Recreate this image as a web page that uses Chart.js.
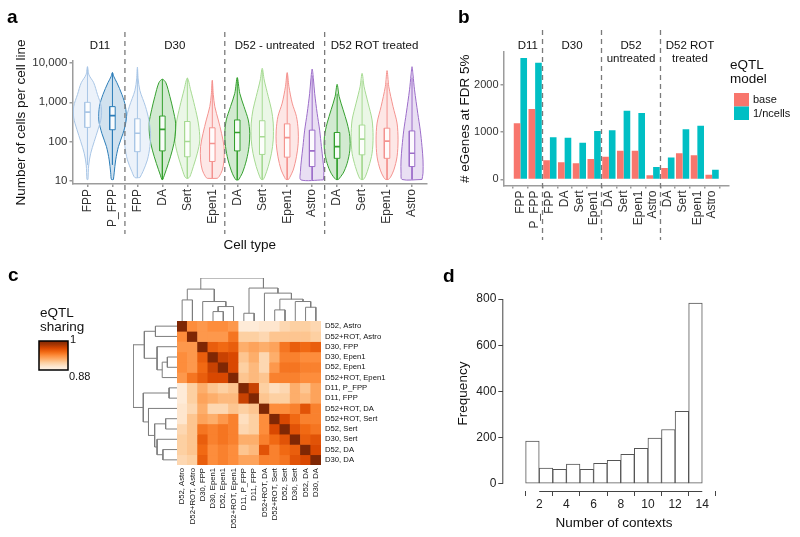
<!DOCTYPE html>
<html><head><meta charset="utf-8">
<script src="https://cdn.jsdelivr.net/npm/chart.js@4.4.1/dist/chart.umd.min.js"></script>
<style>
html,body{margin:0;padding:0;background:#fff;}
#wrap{position:relative;width:800px;height:537px;overflow:hidden;background:#fff;}
canvas{position:absolute;}
</style></head><body><div id="wrap">
<canvas id="ca" width="436" height="255" style="left:0;top:0"></canvas>
<canvas id="cb" width="360" height="255" style="left:440px;top:0"></canvas>
<canvas id="cc" width="400" height="277" style="left:0;top:260px"></canvas>
<canvas id="cct" width="144" height="46" style="left:177px;top:275px"></canvas>
<canvas id="ccl" width="47" height="144" style="left:130px;top:321px"></canvas>
<canvas id="cd" width="400" height="277" style="left:400px;top:260px"></canvas>
</div>
<script>
// ================= DATA =================
// Panel a / b categories
const cellTypes=['FPP','P_FPP','FPP','DA','Sert','Epen1','DA','Sert','Epen1','Astro','DA','Sert','Epen1','Astro'];
const facetNamesA=['D11','D30','D52 - untreated','D52 ROT treated'];
const facetNamesB=[['D11'],['D30'],['D52','untreated'],['D52 ROT','treated']];
const facetSizes=[2,4,4,4];
const yTicksA=[10,100,1000,10000];
const violinColors=['#A9C6E6','#2C7DB8','#A9C6E6','#34A02E','#A6DA92','#F4938F','#34A02E','#A6DA92','#F4938F','#9C6DC9','#34A02E','#A6DA92','#F4938F','#9C6DC9'];
// box statistics, in log10(number of cells)
const q1Log =[2.36,2.30,1.74,1.76,1.61,1.49,1.76,1.67,1.60,1.36,1.57,1.66,1.57,1.36];
const medLog=[2.75,2.66,2.21,2.31,2.00,1.95,2.23,2.12,2.10,1.76,1.87,2.06,2.01,1.70];
const q3Log =[3.00,2.89,2.58,2.65,2.51,2.35,2.55,2.53,2.45,2.29,2.23,2.42,2.34,2.27];
const whLoLog=[1.40,1.41,1.08,1.03,1.06,1.06,1.02,1.03,1.03,1.02,1.03,1.03,1.03,1.03];
const whHiLog=[3.91,3.76,3.84,3.59,3.62,3.56,3.63,3.82,3.73,3.68,3.22,3.56,3.50,3.63];
// violin outlines: [log10(cells), half width in category units]
const violinShapes=[
 [[1.03,0.02],[1.4,0.05],[1.7,0.13],[2.0,0.27],[2.3,0.42],[2.6,0.55],[2.9,0.55],[3.2,0.4],[3.5,0.25],[3.7,0.06],[3.91,0]],
 [[1.03,0.04],[1.2,0.07],[1.53,0.13],[1.87,0.24],[2.2,0.42],[2.55,0.55],[2.9,0.52],[3.2,0.38],[3.5,0.18],[3.65,0.06],[3.76,0]],
 [[1.08,0.1],[1.23,0.22],[1.53,0.4],[1.87,0.5],[2.2,0.53],[2.55,0.46],[2.9,0.32],[3.3,0.1],[3.6,0.03],[3.9,0]],
 [[1.03,0.02],[1.14,0.08],[1.44,0.24],[1.78,0.4],[2.12,0.51],[2.47,0.53],[2.81,0.43],[3.15,0.3],[3.5,0.14],[3.59,0]],
 [[1.06,0.03],[1.1,0.1],[1.36,0.24],[1.7,0.4],[2.04,0.5],[2.47,0.44],[2.89,0.3],[3.32,0.13],[3.62,0]],
 [[1.06,0.2],[1.1,0.27],[1.27,0.4],[1.53,0.47],[1.87,0.47],[2.21,0.37],[2.55,0.24],[2.89,0.1],[3.2,0.04],[3.56,0]],
 [[1.02,0.05],[1.19,0.2],[1.53,0.37],[1.87,0.47],[2.21,0.5],[2.55,0.44],[2.89,0.27],[3.23,0.1],[3.63,0]],
 [[1.03,0.04],[1.1,0.1],[1.36,0.24],[1.7,0.37],[2.04,0.44],[2.47,0.44],[2.81,0.37],[3.15,0.24],[3.57,0.08],[3.87,0]],
 [[1.03,0.05],[1.08,0.1],[1.27,0.24],[1.61,0.37],[1.95,0.44],[2.29,0.44],[2.64,0.37],[2.98,0.2],[3.4,0.07],[3.76,0]],
 [[1.02,0.45],[1.23,0.47],[1.53,0.43],[1.87,0.37],[2.29,0.3],[2.72,0.2],[3.23,0.1],[3.6,0.05],[3.85,0]],
 [[1.03,0.05],[1.19,0.24],[1.44,0.4],[1.78,0.51],[2.12,0.51],[2.47,0.4],[2.81,0.24],[3.15,0.08],[3.46,0]],
 [[1.03,0.05],[1.1,0.13],[1.36,0.27],[1.7,0.4],[2.12,0.44],[2.55,0.4],[2.98,0.24],[3.4,0.08],[3.74,0]],
 [[1.03,0.05],[1.08,0.13],[1.27,0.27],[1.61,0.4],[2.04,0.44],[2.47,0.4],[2.89,0.24],[3.4,0.07],[3.81,0]],
 [[1.03,0.4],[1.19,0.44],[1.53,0.44],[1.87,0.4],[2.29,0.33],[2.72,0.23],[3.32,0.1],[3.7,0.04],[3.91,0]]
];
// Panel b: number of eGenes
const baseVals  =[1190,1490,407,364,343,435,478,607,607,86,243,557,514,100];
const ncellsVals=[2570,2470,893,885,778,1028,1042,1456,1406,264,464,1064,1135,207];
const yTicksB=[0,1000,2000];
// Panel c: eQTL sharing
const heatLabels=['D52, Astro','D52+ROT, Astro','D30, FPP','D30, Epen1','D52, Epen1','D52+ROT, Epen1','D11, P_FPP','D11, FPP','D52+ROT, DA','D52+ROT, Sert','D52, Sert','D30, Sert','D52, DA','D30, DA'];
const heatValues=[
 [1,.94,.935,.94,.94,.935,.89,.89,.895,.895,.905,.91,.91,.905],
 [.94,1,.935,.935,.935,.95,.91,.91,.905,.915,.915,.915,.915,.91],
 [.935,.935,1,.96,.955,.96,.925,.93,.925,.93,.95,.96,.955,.96],
 [.94,.935,.96,1,.975,.97,.915,.925,.905,.925,.945,.945,.94,.94],
 [.94,.935,.955,.975,1,.97,.91,.92,.905,.935,.95,.95,.945,.945],
 [.935,.95,.96,.97,.97,1,.915,.92,.915,.945,.945,.945,.94,.94],
 [.89,.91,.925,.915,.91,.915,1,.975,.91,.9,.905,.925,.915,.93],
 [.89,.91,.93,.925,.92,.92,.975,1,.915,.91,.91,.925,.92,.93],
 [.895,.905,.925,.905,.905,.915,.91,.915,1,.94,.94,.945,.965,.945],
 [.895,.915,.93,.925,.935,.945,.9,.91,.94,1,.97,.955,.945,.945],
 [.905,.915,.95,.945,.95,.945,.905,.91,.94,.97,1,.965,.955,.95],
 [.91,.915,.96,.945,.95,.945,.925,.925,.945,.955,.965,1,.96,.965],
 [.91,.915,.955,.94,.945,.94,.915,.92,.965,.945,.955,.96,1,.97],
 [.905,.91,.96,.94,.945,.94,.93,.93,.945,.945,.95,.965,.97,1]
];
const heatMin=0.88, heatMax=1;
const heatStops=['#FFF5EB','#FEE6CE','#FDD0A2','#FDAE6B','#FD8D3C','#F16913','#D94801','#A63603','#7F2704'];
// hierarchical clustering (hclust style: negative = leaf position, positive = earlier merge)
const mergeA=[-4,-7,-10,-13,-6,-12,-3,-1,3,-9,8,2,11];
const mergeB=[-5,-8,-11,-14,1,4,5,-2,6,9,7,10,12];
const mergeH=[0.219,0.18,0.258,0.32,0.336,0.453,0.453,0.49,0.508,0.648,0.742,0.766,1.0];
// Panel d: histogram
const contextBins=[1,2,3,4,5,6,7,8,9,10,11,12,13];
const contextCounts=[185,68,62,85,63,89,101,128,153,198,235,314,782];
const xTicksD=[2,4,6,8,10,12,14];
const yTicksD=[0,200,400,600,800];

// ================= SETUP =================
const FONT='"Liberation Sans", Arial, Helvetica, sans-serif';
Chart.defaults.font.family=FONT;
Chart.defaults.color='#222';
Chart.defaults.animation=false;
Chart.defaults.responsive=false;
Chart.defaults.devicePixelRatio=1;
Chart.defaults.events=[];
Chart.defaults.plugins.legend.display=false;
Chart.defaults.plugins.tooltip.enabled=false;

function txt(ctx,s,x,y,o={}){
  ctx.save();
  ctx.font=(o.weight||'normal')+' '+(o.size||12)+'px '+FONT;
  ctx.fillStyle=o.color||'#111';
  ctx.textAlign=o.align||'center';
  ctx.textBaseline=o.base||'middle';
  ctx.translate(x,y); if(o.rot) ctx.rotate(o.rot);
  ctx.fillText(s,0,0); ctx.restore();
}
function dashLine(ctx,x,y0,y1){
  ctx.save(); ctx.strokeStyle='#7a7a7a'; ctx.lineWidth=1.3; ctx.setLineDash([5,4]);
  ctx.beginPath(); ctx.moveTo(x,y0); ctx.lineTo(x,y1); ctx.stroke(); ctx.restore();
}
function hexA(h,a){const n=parseInt(h.slice(1),16);return `rgba(${n>>16},${(n>>8)&255},${n&255},${a})`;}
function heatColor(v){
  const t=Math.max(0,Math.min(1,(v-heatMin)/(heatMax-heatMin)))*(heatStops.length-1);
  const i=Math.min(heatStops.length-2,Math.floor(t)), f=t-i;
  const a=parseInt(heatStops[i].slice(1),16), b=parseInt(heatStops[i+1].slice(1),16);
  const c=k=>Math.round(((a>>k)&255)*(1-f)+((b>>k)&255)*f);
  return `rgb(${c(16)},${c(8)},${c(0)})`;
}
const AXG='#9c9c9c';

// ================= PANEL A =================
const dsA=[];
cellTypes.forEach((_,i)=>{
  const c=i+1, col=violinColors[i], sh=violinShapes[i], bw=0.11;
  const poly=[];
  sh.forEach(([lv,hw])=>poly.push({x:c+hw,y:10**lv}));
  for(let k=sh.length-2;k>=0;k--) poly.push({x:c-sh[k][1],y:10**sh[k][0]});
  poly.push({x:c+sh[0][1],y:10**sh[0][0]});
  dsA.push({data:poly,borderColor:col,borderWidth:1,backgroundColor:hexA(col,0.22),fill:'shape',tension:0.3,pointRadius:0,order:3});
  dsA.push({data:[{x:c,y:10**q3Log[i]},{x:c,y:10**whHiLog[i]},{x:c,y:null},{x:c,y:10**q1Log[i]},{x:c,y:10**whLoLog[i]}],
    borderColor:col,borderWidth:1,pointRadius:0,fill:false,order:2});
  dsA.push({data:[{x:c-bw,y:10**q1Log[i]},{x:c+bw,y:10**q1Log[i]},{x:c+bw,y:10**q3Log[i]},{x:c-bw,y:10**q3Log[i]},{x:c-bw,y:10**q1Log[i]}],
    borderColor:col,borderWidth:1,backgroundColor:'rgba(255,255,255,0.85)',fill:'shape',tension:0,pointRadius:0,order:1});
  dsA.push({data:[{x:c-bw,y:10**medLog[i]},{x:c+bw,y:10**medLog[i]}],borderColor:col,borderWidth:1.6,pointRadius:0,fill:false,order:0});
});
const pluginA={id:'pa',afterDraw(chart){
  const ctx=chart.ctx,x=chart.scales.x;
  txt(ctx,'a',7,23,{size:19,weight:'bold',align:'left',base:'alphabetic',color:'#000'});
  let s=0;
  facetNamesA.forEach((n,k)=>{
    txt(ctx,n,x.getPixelForValue(s+facetSizes[k]/2+0.5),46,{size:11.5,color:'#111'});
    s+=facetSizes[k];
    if(k<facetSizes.length-1) dashLine(ctx,x.getPixelForValue(s+0.5),32,234);
  });
}};
new Chart(document.getElementById('ca'),{
  type:'line',data:{datasets:dsA},
  options:{
    layout:{padding:{left:9,top:61,right:9,bottom:0}},
    scales:{
      x:{type:'linear',min:0.4,max:14.6,
        afterFit(s){s.height=71;},
        afterBuildTicks(s){s.ticks=cellTypes.map((_,i)=>({value:i+1}));},
        ticks:{autoSkip:false,minRotation:90,maxRotation:90,padding:2,font:{size:12},color:'#333',callback:v=>cellTypes[v-1]},
        grid:{display:true,drawOnChartArea:false,tickLength:3,color:AXG,lineWidth:1.5},
        border:{display:true,color:AXG,width:1.5},
        title:{display:true,text:'Cell type',font:{size:13.5},color:'#111',padding:{top:0,bottom:2}}},
      y:{type:'logarithmic',min:10**0.915,max:10**4.055,
        afterFit(s){s.width=63.5;},
        afterBuildTicks(s){s.ticks=yTicksA.map(v=>({value:v}));},
        ticks:{font:{size:11.5},color:'#333',padding:2,callback:v=>v.toLocaleString('en-US')},
        grid:{display:true,drawOnChartArea:false,tickLength:3,color:AXG,lineWidth:1.5},
        border:{display:true,color:AXG,width:1.5},
        title:{display:true,text:'Number of cells per cell line',font:{size:13.5},color:'#111',padding:{top:4,bottom:0}}}
    }
  },plugins:[pluginA]});

// ================= PANEL B =================
const pluginB={id:'pb',afterDraw(chart){
  const ctx=chart.ctx,x=chart.scales.x;
  txt(ctx,'b',18,23,{size:19,weight:'bold',align:'left',base:'alphabetic',color:'#000'});
  let s=0;
  facetNamesB.forEach((lines,k)=>{
    const cx=x.getPixelForValue(s+facetSizes[k]/2+0.5);
    lines.forEach((l,j)=>txt(ctx,l,cx,46+j*12.5,{size:11.5,color:'#111'}));
    s+=facetSizes[k];
    if(k<facetSizes.length-1) dashLine(ctx,x.getPixelForValue(s+0.5),30,240);
  });
  txt(ctx,'eQTL',290,65,{size:13.5,align:'left'});
  txt(ctx,'model',290,79,{size:13.5,align:'left'});
  const ds=chart.data.datasets;
  ds.forEach((d,j)=>{
    ctx.fillStyle=d.backgroundColor; ctx.fillRect(294,93+j*13.5,15,13.5);
    txt(ctx,d.label,313,100+j*13.5,{size:11,align:'left'});
  });
}};
new Chart(document.getElementById('cb'),{
  type:'bar',
  data:{datasets:[
    {label:'base',data:baseVals.map((v,i)=>({x:i+1,y:v})),backgroundColor:'#F8766D'},
    {label:'1/ncells',data:ncellsVals.map((v,i)=>({x:i+1,y:v})),backgroundColor:'#00BFC4'}]},
  options:{
    categoryPercentage:0.9,barPercentage:1,
    layout:{padding:{left:13,top:52,right:71,bottom:0}},
    scales:{
      x:{type:'linear',min:0.4,max:14.6,
        afterFit(s){s.height=69.5;},
        afterBuildTicks(s){s.ticks=cellTypes.map((_,i)=>({value:i+1}));},
        ticks:{autoSkip:false,minRotation:90,maxRotation:90,padding:2,font:{size:12},color:'#333',callback:v=>cellTypes[v-1]},
        grid:{display:true,drawOnChartArea:false,tickLength:3,color:AXG,lineWidth:1.5},
        border:{display:true,color:AXG,width:1.5}},
      y:{type:'linear',min:-128.5,max:2698.5,
        afterFit(s){s.width=50.5;},
        afterBuildTicks(s){s.ticks=yTicksB.map(v=>({value:v}));},
        ticks:{font:{size:11},color:'#333',padding:2,callback:v=>String(v)},
        grid:{display:true,drawOnChartArea:false,tickLength:3,color:AXG,lineWidth:1.5},
        border:{display:true,color:AXG,width:1.5},
        title:{display:true,text:'# eGenes at FDR 5%',font:{size:13.5},color:'#111',padding:{top:4,bottom:0}}}
    }
  },plugins:[pluginB]});

// ================= PANEL C =================
const pluginC={id:'pc',afterDraw(chart){
  const ctx=chart.ctx;
  txt(ctx,'c',8,21,{size:19,weight:'bold',align:'left',base:'alphabetic',color:'#000'});
  txt(ctx,'eQTL',40,53,{size:13.5,align:'left'});
  txt(ctx,'sharing',40,67,{size:13.5,align:'left'});
  const g=ctx.createLinearGradient(0,81,0,110);
  heatStops.forEach((c,k)=>g.addColorStop(1-k/(heatStops.length-1),c));
  ctx.fillStyle=g; ctx.fillRect(39,81,29,29);
  ctx.strokeStyle='#000'; ctx.lineWidth=1.5; ctx.strokeRect(39,81,29,29);
  txt(ctx,String(heatMax),70,80,{size:11,align:'left'});
  txt(ctx,String(heatMin),69,117,{size:11,align:'left'});
}};
new Chart(document.getElementById('cc'),{
  type:'bar',
  data:{labels:heatLabels,datasets:heatLabels.map((_,r)=>({
    data:heatLabels.map(()=>[r,r+1]),
    backgroundColor:heatValues[r].map(heatColor),
    borderWidth:0,grouped:false,barPercentage:1,categoryPercentage:1}))},
  options:{
    layout:{padding:{left:177,top:61,right:0,bottom:0}},
    scales:{
      x:{afterFit(s){s.height=72;},
        ticks:{autoSkip:false,minRotation:90,maxRotation:90,padding:3,font:{size:7.7},color:'#111'},
        grid:{display:false,drawTicks:false},border:{display:false}},
      y:{type:'linear',position:'right',min:0,max:14,reverse:true,
        afterFit(s){s.width=79;},
        afterBuildTicks(s){s.ticks=heatLabels.map((_,i)=>({value:i+0.5}));},
        ticks:{autoSkip:false,padding:4,font:{size:7.7},color:'#111',callback:v=>heatLabels[Math.floor(v)]},
        grid:{display:false,drawTicks:false},border:{display:false}}
    }
  },plugins:[pluginC]});

function dendroPoints(horizontalLeaves){
  const pos=[],ht=[],pts=[];
  const get=id=>id<0?{p:-id-0.5,h:0}:{p:pos[id-1],h:ht[id-1]};
  const P=(p,h)=>horizontalLeaves?{x:p,y:h}:{x:h,y:p};
  mergeH.forEach((h,k)=>{
    const a=get(mergeA[k]),b=get(mergeB[k]);
    pts.push(P(a.p,a.h),P(a.p,h),P(b.p,h),P(b.p,b.h));
    pts.push(horizontalLeaves?{x:a.p,y:null}:{x:null,y:a.p});
    pos.push((a.p+b.p)/2); ht.push(h);
  });
  return pts;
}
const dendroDs=h=>({datasets:[{data:dendroPoints(h),borderColor:'#7d7d7d',borderWidth:1,pointRadius:0,fill:false,tension:0}]});
new Chart(document.getElementById('cct'),{type:'line',data:dendroDs(true),
  options:{layout:{padding:{top:3,left:0,right:0,bottom:0}},
    scales:{x:{type:'linear',min:0,max:14,display:false},y:{type:'linear',min:0,max:1,display:false}}}});
new Chart(document.getElementById('ccl'),{type:'line',data:dendroDs(false),
  options:{layout:{padding:{top:0,left:3,right:0,bottom:0}},
    scales:{x:{type:'linear',min:0,max:1,reverse:true,display:false},y:{type:'linear',min:0,max:14,reverse:true,display:false}}}});

// ================= PANEL D =================
const pluginD={id:'pd',afterDraw(chart){
  const {ctx,scales:{x,y},chartArea:ca}=chart;
  txt(ctx,'d',43,22,{size:19,weight:'bold',align:'left',base:'alphabetic',color:'#000'});
  ctx.save(); ctx.strokeStyle='#444'; ctx.lineWidth=1; ctx.beginPath();
  ctx.moveTo(x.getPixelForValue(xTicksD[0]),ca.bottom+0.5); ctx.lineTo(x.getPixelForValue(xTicksD[xTicksD.length-1]),ca.bottom+0.5);
  ctx.moveTo(ca.left-0.5,y.getPixelForValue(yTicksD[0])); ctx.lineTo(ca.left-0.5,y.getPixelForValue(yTicksD[yTicksD.length-1]));
  ctx.stroke(); ctx.restore();
}};
new Chart(document.getElementById('cd'),{
  type:'bar',
  data:{datasets:[{data:contextBins.map((b,i)=>({x:b+0.5,y:contextCounts[i]})),
    backgroundColor:'#ffffff',borderColor:'#555',borderWidth:1,borderSkipped:false,barPercentage:1,categoryPercentage:1}]},
  options:{
    layout:{padding:{left:51,top:36,right:75.4,bottom:0}},
    scales:{
      x:{type:'linear',min:0.52,max:14.48,
        afterFit(s){s.height=46;},
        afterBuildTicks(s){s.ticks=xTicksD.map(v=>({value:v}));},
        ticks:{autoSkip:false,maxRotation:0,padding:1,font:{size:12},color:'#222'},
        grid:{display:true,drawOnChartArea:false,tickLength:5,color:'#444'},
        border:{display:false},
        title:{display:true,text:'Number of contexts',font:{size:13.5},color:'#111',padding:{top:0,bottom:6}}},
      y:{type:'linear',min:-31.3,max:813,
        afterFit(s){s.width=52.3;},
        afterBuildTicks(s){s.ticks=yTicksD.map(v=>({value:v}));},
        ticks:{font:{size:12},color:'#222',padding:2},
        grid:{display:true,drawOnChartArea:false,tickLength:5,color:'#444'},
        border:{display:false},
        title:{display:true,text:'Frequency',font:{size:13.5},color:'#111',padding:{top:4,bottom:0}}}
    }
  },plugins:[pluginD]});
</script></body></html>
